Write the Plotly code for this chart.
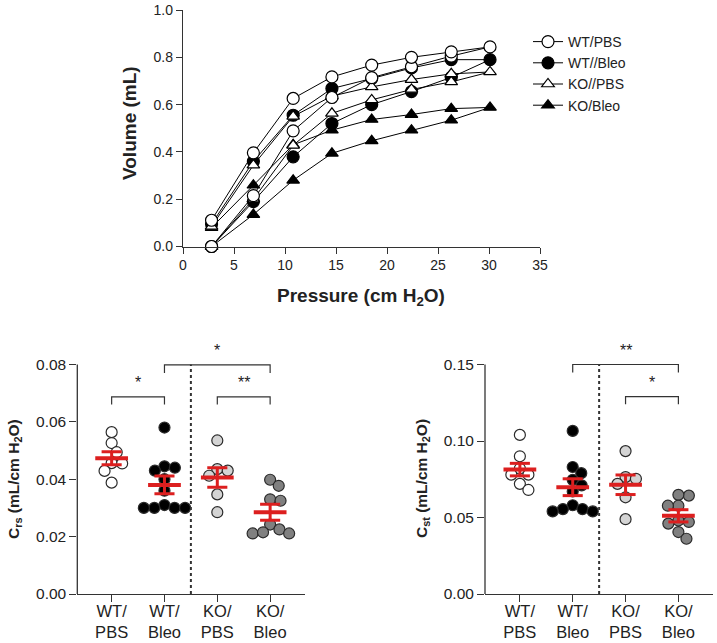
import math
import plotly.graph_objects as go

# ---- top panel: pressure-volume loops ----
pressure_infl = [2.8, 6.9, 10.8, 14.6, 18.5, 22.4, 26.3, 30.1]
pressure_defl = [26.3, 22.4, 18.5, 14.6, 10.8, 6.9, 2.8]

groups = ["WT/PBS", "WT//Bleo", "KO//PBS", "KO/Bleo"]

wt_pbs_infl = [0.0, 0.215, 0.489, 0.630, 0.714, 0.760, 0.805, 0.844]
wt_pbs_defl = [0.823, 0.800, 0.767, 0.717, 0.626, 0.396, 0.111]
wt_bleo_infl = [0.0, 0.190, 0.379, 0.520, 0.600, 0.655, 0.715, 0.790]
wt_bleo_defl = [0.790, 0.755, 0.710, 0.668, 0.555, 0.360, 0.095]
ko_pbs_infl = [0.0, 0.200, 0.428, 0.563, 0.620, 0.664, 0.696, 0.738]
ko_pbs_defl = [0.730, 0.706, 0.675, 0.636, 0.550, 0.344, 0.085]
ko_bleo_infl = [0.0, 0.135, 0.280, 0.394, 0.447, 0.492, 0.534, 0.588]
ko_bleo_defl = [0.583, 0.558, 0.537, 0.492, 0.430, 0.259, 0.080]

# ---- bottom panels: compliance per mouse ----
categories = ["WT/<br>PBS", "WT/<br>Bleo", "KO/<br>PBS", "KO/<br>Bleo"]

crs_wt_pbs = [0.0564, 0.0526, 0.0494, 0.0456, 0.0455, 0.0429, 0.0388]
crs_wt_bleo = [0.0580, 0.0445, 0.0440, 0.0430, 0.0400, 0.0360, 0.0310, 0.0300, 0.0300, 0.0300, 0.0300]
crs_ko_pbs = [0.0535, 0.0435, 0.0430, 0.0412, 0.0347, 0.0285]
crs_ko_bleo = [0.0398, 0.0377, 0.0330, 0.0325, 0.0242, 0.0225, 0.0211, 0.0211, 0.0215]
crs_mean = [0.0473, 0.0380, 0.0406, 0.0285]
crs_sem = [0.0023, 0.0031, 0.0034, 0.0028]

cst_wt_pbs = [0.104, 0.090, 0.082, 0.078, 0.078, 0.072, 0.068]
cst_wt_bleo = [0.1066, 0.083, 0.079, 0.0746, 0.071, 0.067, 0.058, 0.0555, 0.0555, 0.054, 0.054]
cst_ko_pbs = [0.0934, 0.0764, 0.0753, 0.072, 0.0632, 0.0489]
cst_ko_bleo = [0.0643, 0.0648, 0.0577, 0.0577, 0.048, 0.0471, 0.046, 0.0405, 0.0361]
cst_mean = [0.0813, 0.0698, 0.0714, 0.0511]
cst_sem = [0.0041, 0.0055, 0.0064, 0.0040]

# significance brackets: (from group, to group, level, label)
crs_sig = [(0, 1, 0.0687, "*"), (2, 3, 0.0687, "**"), (1, 3, 0.0798, "*")]
cst_sig = [(2, 3, 0.129, "*"), (1, 3, 0.150, "**")]

FONT = "Liberation Sans, Arial, sans-serif"
AXIS_COLOR = "#333333"
TXT = "#222222"
RED = "#dc1f1f"
W, H = 717, 643


def beeswarm(values, y_px_per_unit, x_px_per_unit, diam=10.5):
    """Deterministic beeswarm offsets so dots do not overlap."""
    order = sorted(range(len(values)), key=lambda i: -values[i])
    placed = []
    offsets = [0.0] * len(values)
    for i in order:
        y = values[i] * y_px_per_unit
        cands = [0.0]
        for px, py in placed:
            dy = y - py
            if abs(dy) < diam:
                dx = math.sqrt(diam ** 2 - dy ** 2)
                cands += [px + dx, px - dx]
        cands.sort(key=lambda c: (abs(c), -c))
        for c in cands:
            if all((c - px) ** 2 + (y - py) ** 2 >= diam ** 2 - 1e-6 for px, py in placed):
                break
        placed.append((c, y))
        offsets[i] = c / x_px_per_unit
    return offsets


fig = go.Figure()

# top panel traces
loop_styles = {
    "WT/PBS": dict(symbol="circle", color="white"),
    "WT//Bleo": dict(symbol="circle", color="black"),
    "KO//PBS": dict(symbol="triangle-up", color="white"),
    "KO/Bleo": dict(symbol="triangle-up", color="black"),
}
loop_data = {
    "WT/PBS": (wt_pbs_infl, wt_pbs_defl),
    "WT//Bleo": (wt_bleo_infl, wt_bleo_defl),
    "KO//PBS": (ko_pbs_infl, ko_pbs_defl),
    "KO/Bleo": (ko_bleo_infl, ko_bleo_defl),
}
draw_order = ["KO/Bleo", "WT//Bleo", "KO//PBS", "WT/PBS"]
for name in draw_order:
    infl, defl = loop_data[name]
    st = loop_styles[name]
    fig.add_trace(go.Scatter(
        x=pressure_infl + pressure_defl, y=infl + defl,
        mode="lines+markers", name=name,
        legendrank=groups.index(name) + 1,
        line=dict(color="black", width=1),
        marker=dict(symbol=st["symbol"], size=12 if st["symbol"] == "circle" else 11,
                    color=st["color"], line=dict(color="black", width=1.2)),
        cliponaxis=False, xaxis="x", yaxis="y",
    ))

# bottom panels
dot_colors = ["white", "black", "#d4d4d4", "#808080"]
XPX = 52.8


def add_dot_panel(groups_vals, means, sems, sig, xa, ya, ypx, axis_top):
    for k, vals in enumerate(groups_vals):
        offs = beeswarm(vals, ypx, XPX)
        fig.add_trace(go.Scatter(
            x=[k + o for o in offs], y=vals, mode="markers", showlegend=False,
            marker=dict(size=11, color=dot_colors[k], line=dict(color="#2a2a2a", width=1.2)),
            cliponaxis=False, xaxis=xa, yaxis=ya,
        ))
    for k, (m, s) in enumerate(zip(means, sems)):
        fig.add_trace(go.Scatter(
            x=[k - 0.31, k + 0.31], y=[m, m], mode="lines", showlegend=False,
            line=dict(color=RED, width=4), xaxis=xa, yaxis=ya))
        fig.add_trace(go.Scatter(
            x=[k - 0.19, k + 0.19, None, k, k, None, k - 0.19, k + 0.19],
            y=[m + s, m + s, None, m + s, m - s, None, m - s, m - s],
            mode="lines", showlegend=False,
            line=dict(color=RED, width=3), xaxis=xa, yaxis=ya))
    # dotted separator
    fig.add_trace(go.Scatter(
        x=[1.5, 1.5], y=[0, axis_top], mode="lines", showlegend=False,
        line=dict(color="#333333", width=2, dash="dot"), xaxis=xa, yaxis=ya))
    for a, b, lvl, lab in sig:
        drop = axis_top * (0.035 if b - a > 1 else 0.033)
        fig.add_trace(go.Scatter(
            x=[a, a, b, b], y=[lvl - drop, lvl, lvl, lvl - drop], mode="lines",
            showlegend=False, line=dict(color="#333333", width=1.2), xaxis=xa, yaxis=ya))
        fig.add_annotation(x=(a + b) / 2, y=lvl + axis_top * 0.062, text=lab, showarrow=False,
                           xref=xa, yref=ya, font=dict(size=16, color=TXT, family=FONT))


add_dot_panel([crs_wt_pbs, crs_wt_bleo, crs_ko_pbs, crs_ko_bleo], crs_mean, crs_sem,
              crs_sig, "x2", "y2", 2870, 0.08)
add_dot_panel([cst_wt_pbs, cst_wt_bleo, cst_ko_pbs, cst_ko_bleo], cst_mean, cst_sem,
              cst_sig, "x3", "y3", 1530, 0.15)

ytickfont = dict(size=15.5, color=TXT, family=FONT)
cattickfont = dict(size=16.5, color=TXT, family=FONT)
toptickfont = dict(size=14, color=TXT, family=FONT)

common = dict(showgrid=False, zeroline=False, ticks="outside", tickcolor=AXIS_COLOR,
              automargin=False)

fig.update_layout(
    width=W, height=H,
    margin=dict(l=0, r=0, t=0, b=0, autoexpand=False),
    plot_bgcolor="white", paper_bgcolor="white",
    font=dict(family=FONT, color=TXT),
    legend=dict(x=528 / W, y=1 - 26 / H, xanchor="left", yanchor="top",
                font=dict(size=14, family=FONT, color=TXT),
                bgcolor="rgba(0,0,0,0)", itemwidth=30, tracegroupgap=0),
    xaxis=dict(domain=[183 / W, 540 / W], range=[0, 35], tickvals=[0, 5, 10, 15, 20, 25, 30, 35],
               showline=True, linecolor=AXIS_COLOR, linewidth=1.3, ticklen=6,
               tickfont=toptickfont, anchor="y", **common),
    yaxis=dict(domain=[1 - 246.5 / H, 1 - 10 / H], range=[0, 1],
               tickvals=[0, 0.2, 0.4, 0.6, 0.8, 1.0], tickformat=".1f",
               showline=True, linecolor=AXIS_COLOR, linewidth=1.3, ticklen=6,
               tickfont=toptickfont, anchor="x", **common),
    xaxis2=dict(domain=[77.3 / W, 305 / W], range=[-0.65, 3.66], tickvals=[0, 1, 2, 3],
                ticktext=categories, showline=True, linecolor=AXIS_COLOR, linewidth=1.3,
                ticklen=7, ticklabelstandoff=-5, tickfont=cattickfont, anchor="y2", **common),
    yaxis2=dict(domain=[1 - 594 / H, 1 - 330 / H], range=[0, 264 / 2870],
                tickvals=[0, 0.02, 0.04, 0.06, 0.08], tickformat=".2f",
                showline=False, ticklen=7, tickfont=ytickfont, anchor="x2", **common),
    xaxis3=dict(domain=[485 / W, 713 / W], range=[-0.66, 3.655], tickvals=[0, 1, 2, 3],
                ticktext=categories, showline=True, linecolor=AXIS_COLOR, linewidth=1.3,
                ticklen=7, ticklabelstandoff=-5, tickfont=cattickfont, anchor="y3", **common),
    yaxis3=dict(domain=[1 - 594 / H, 1 - 330 / H], range=[0, 264 / 1530],
                tickvals=[0, 0.05, 0.10, 0.15], tickformat=".2f",
                showline=False, ticklen=7, tickfont=ytickfont, anchor="x3", **common),
)

# axis titles as annotations so they sit centred on the drawn axis lines
titles = [
    ("<b>Pressure (cm H<sub>2</sub>O)</b>", 361, 297, 0, 19),
    ("<b>Volume (mL)</b>", 129, 123, -90, 19),
    ("<b>C<sub>rs</sub> (mL/cm H<sub>2</sub>O)</b>", 14, 479, -90, 15.5),
    ("<b>C<sub>st</sub> (mL/cm H<sub>2</sub>O)</b>", 422, 479, -90, 15.5),
]
for text, px, py, ang, fs in titles:
    fig.add_annotation(x=px / W, y=1 - py / H, xref="paper", yref="paper", text=text,
                       textangle=ang, showarrow=False, xanchor="center", yanchor="middle",
                       font=dict(size=fs, color=TXT, family=FONT))

# y axis lines of the dot panels stop at the top tick
fig.add_shape(type="line", xref="x2 domain", yref="y2", x0=0, x1=0, y0=0, y1=0.08,
              line=dict(color=AXIS_COLOR, width=1.3))
fig.add_shape(type="line", xref="x3 domain", yref="y3", x0=0, x1=0, y0=0, y1=0.15,
              line=dict(color=AXIS_COLOR, width=1.3))

# page has a default body margin; remove it so the figure fills the window exactly
fig.write_html("out.html", config={"displayModeBar": False},
               post_script="document.body.style.margin='0';")
